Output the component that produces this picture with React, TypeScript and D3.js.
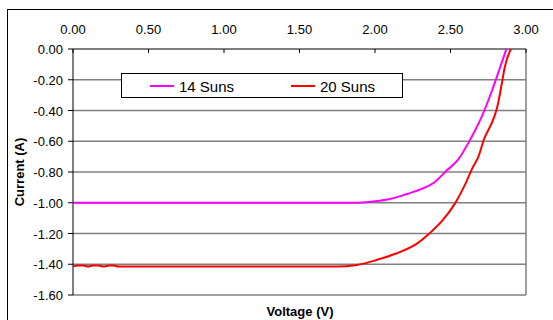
import React, { useEffect, useRef } from 'react';
import * as d3 from 'd3';

// Measured IV curves
const voltage14 = [0, 0.5, 1.0, 1.5, 1.85, 2.0, 2.1, 2.19, 2.3, 2.39, 2.475, 2.55, 2.63, 2.72, 2.775, 2.83, 2.87];
const current14 = [-1.0, -1.0, -1.0, -1.0, -1.0, -0.99, -0.975, -0.95, -0.913, -0.87, -0.79, -0.72, -0.59, -0.41, -0.27, -0.115, 0];

const voltage20 = [0, 0.03, 0.07, 0.1, 0.13, 0.17, 0.2, 0.24, 0.27, 0.3, 0.8, 1.3, 1.75, 1.88, 2.01, 2.14, 2.28, 2.36, 2.45, 2.53, 2.6, 2.65, 2.685, 2.72, 2.79, 2.81, 2.84, 2.86, 2.9];
const current20 = [-1.415, -1.408, -1.408, -1.415, -1.408, -1.408, -1.415, -1.408, -1.408, -1.415, -1.415, -1.415, -1.415, -1.405, -1.372, -1.33, -1.264, -1.2, -1.112, -1.004, -0.874, -0.765, -0.7, -0.592, -0.44, -0.375, -0.223, -0.115, 0];

const xTicks = [0, 0.5, 1.0, 1.5, 2.0, 2.5, 3.0];
const yTicks = [0, -0.2, -0.4, -0.6, -0.8, -1.0, -1.2, -1.4, -1.6];

const seriesNames = ['14 Suns', '20 Suns'];
const seriesColors = ['#ff00ff', '#ff0000'];

const App = () => {
    const ref = useRef<SVGSVGElement>(null);

    useEffect(() => {
        document.body.style.margin = '0';
        const svg = d3.select(ref.current);
        svg.selectAll('*').remove();

        const left = 73, right = 526, top = 49, bottom = 295;
        const font = 'Arial, "Liberation Sans", sans-serif';

        const x = d3.scaleLinear().domain([0, 3]).range([left, right]);
        const y = d3.scaleLinear().domain([0, -1.6]).range([top, bottom]);

        // outer frame
        svg.append('rect')
            .attr('x', 7.5).attr('y', 9.5)
            .attr('width', 560).attr('height', 330)
            .attr('fill', '#fff').attr('stroke', '#000').attr('stroke-width', 1);

        // gridlines
        svg.selectAll('.grid')
            .data(yTicks.slice(1))
            .enter()
            .append('line')
            .attr('x1', left).attr('x2', right)
            .attr('y1', d => y(d)).attr('y2', d => y(d))
            .attr('stroke', '#808080').attr('stroke-width', 1.5);

        // right border
        svg.append('line')
            .attr('x1', right).attr('x2', right)
            .attr('y1', top).attr('y2', bottom)
            .attr('stroke', '#808080').attr('stroke-width', 1.5);

        // top x axis (ticks point inward)
        const xAxis = svg.append('g');
        xAxis.append('line')
            .attr('x1', left).attr('x2', right)
            .attr('y1', top).attr('y2', top)
            .attr('stroke', '#000');
        xAxis.selectAll('.xt')
            .data(xTicks)
            .enter()
            .append('line')
            .attr('x1', d => x(d)).attr('x2', d => x(d))
            .attr('y1', top).attr('y2', top + 4)
            .attr('stroke', '#000');
        xAxis.selectAll('.xl')
            .data(xTicks)
            .enter()
            .append('text')
            .attr('x', d => x(d)).attr('y', 34)
            .attr('text-anchor', 'middle')
            .attr('font-family', font).attr('font-size', 13)
            .text(d => d.toFixed(2));

        // left y axis
        const yAxis = svg.append('g');
        yAxis.append('line')
            .attr('x1', left).attr('x2', left)
            .attr('y1', top).attr('y2', bottom)
            .attr('stroke', '#000');
        yAxis.selectAll('.yt')
            .data(yTicks)
            .enter()
            .append('line')
            .attr('x1', left - 5).attr('x2', left)
            .attr('y1', d => y(d)).attr('y2', d => y(d))
            .attr('stroke', '#000');
        yAxis.selectAll('.yl')
            .data(yTicks)
            .enter()
            .append('text')
            .attr('x', 63).attr('y', d => y(d) + 5)
            .attr('text-anchor', 'end')
            .attr('font-family', font).attr('font-size', 13)
            .text(d => d.toFixed(2));

        // axis titles
        svg.append('text')
            .attr('x', 300).attr('y', 316)
            .attr('text-anchor', 'middle')
            .attr('font-family', font).attr('font-size', 13).attr('font-weight', 'bold')
            .text('Voltage (V)');
        svg.append('text')
            .attr('transform', `translate(24,${(top + bottom) / 2}) rotate(-90)`)
            .attr('text-anchor', 'middle')
            .attr('font-family', font).attr('font-size', 13).attr('font-weight', 'bold')
            .text('Current (A)');

        // curves
        svg.append('clipPath').attr('id', 'plotClip')
            .append('rect')
            .attr('x', left).attr('y', top - 1)
            .attr('width', right - left).attr('height', bottom - top + 1);

        const line = d3.line<[number, number]>()
            .x(d => x(d[0]))
            .y(d => y(d[1]))
            .curve(d3.curveMonotoneX);

        const series = [
            voltage14.map((v, i) => [v, current14[i]] as [number, number]),
            voltage20.map((v, i) => [v, current20[i]] as [number, number]),
        ];

        svg.selectAll('.curve')
            .data(series)
            .enter()
            .append('path')
            .attr('clip-path', 'url(#plotClip)')
            .attr('d', d => line(d))
            .attr('fill', 'none')
            .attr('stroke', (d, i) => seriesColors[i])
            .attr('stroke-width', 2);

        // legend
        const legend = svg.append('g');
        legend.append('rect')
            .attr('x', 121.5).attr('y', 73.5)
            .attr('width', 281).attr('height', 24)
            .attr('fill', '#fff').attr('stroke', '#000');
        const legendX = [150, 291];
        seriesNames.forEach((name, i) => {
            legend.append('line')
                .attr('x1', legendX[i]).attr('x2', legendX[i] + 24)
                .attr('y1', 86).attr('y2', 86)
                .attr('stroke', seriesColors[i]).attr('stroke-width', 2);
            legend.append('text')
                .attr('x', legendX[i] + 29).attr('y', 91.5)
                .attr('font-family', font).attr('font-size', 15)
                .text(name);
        });
    }, []);

    return <svg ref={ref} width={553} height={320} style={{ display: 'block' }} />;
};

export default App;
